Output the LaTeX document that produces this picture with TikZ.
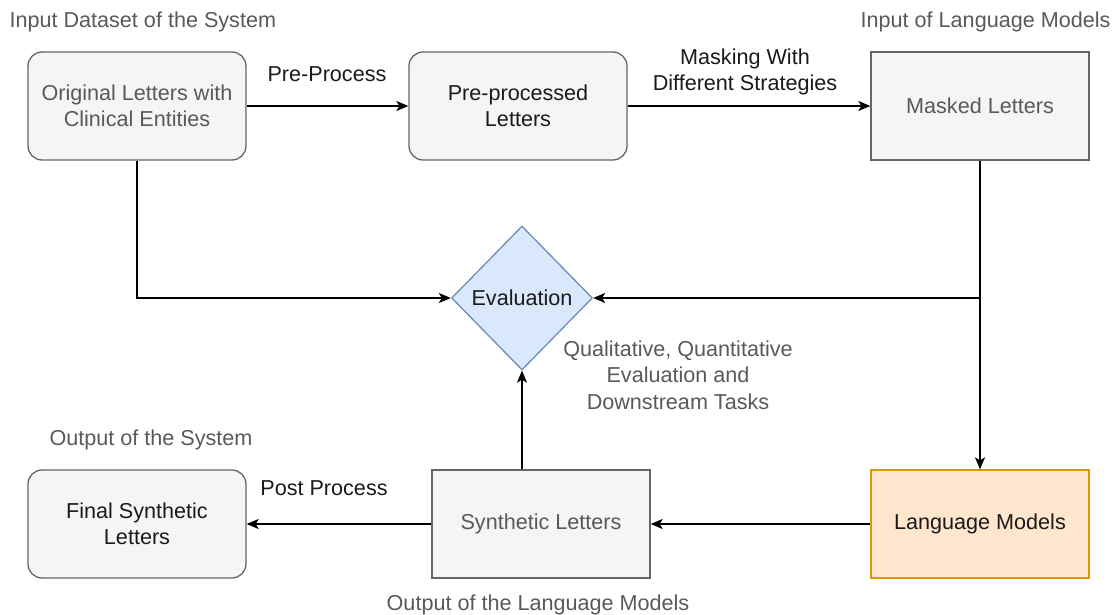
\documentclass[tikz,border=0pt]{standalone}
\usepackage{fontspec}
\setmainfont{Liberation Sans}
\usetikzlibrary{arrows.meta,shapes.geometric}
\definecolor{boxfill}{HTML}{F5F5F5}
\definecolor{boxline}{HTML}{666666}
\definecolor{txtgray}{HTML}{595959}
\definecolor{txtdark}{HTML}{1A1A1A}
\definecolor{evalfill}{HTML}{DAE8FC}
\definecolor{evalline}{HTML}{6C8EBF}
\definecolor{lmfill}{HTML}{FFE6CC}
\definecolor{lmline}{HTML}{D79B00}
\tikzset{
  x=1pt,y=-1pt,
  every node/.style={font=\fontsize{21.6}{26.5}\selectfont, align=center},
  rbox/.style={draw=boxline, fill=boxfill, line width=1.3pt, rounded corners=14pt,
    minimum width=218pt, minimum height=108pt, inner sep=0pt},
  sbox/.style={draw=boxline, fill=boxfill, line width=1.3pt,
    minimum width=218pt, minimum height=108pt, inner sep=0pt},
  conn/.style={line width=1.6pt, -{Stealth[length=12pt,width=10pt,inset=3pt]}},
  lbl/.style={text=txtdark},
}
\begin{document}
\begin{tikzpicture}
\useasboundingbox (0,0) rectangle (1114,615);
% boxes
\node[rbox, text=txtgray] (orig) at (137,106) {Original Letters with\\Clinical Entities};
\node[rbox, text=txtdark] (pre) at (518,106) {Pre-processed\\Letters};
\node[sbox, text=txtgray] (mask) at (980,106) {Masked Letters};
\node[diamond, draw=evalline, fill=evalfill, line width=1.3pt, minimum width=141pt, minimum height=144pt, inner sep=0pt, text=txtdark] (eval) at (522,298) {Evaluation};
\node[sbox, text=txtgray] (syn) at (541,524) {Synthetic Letters};
\node[rbox, text=txtdark] (final) at (137,524) {Final Synthetic\\Letters};
\node[sbox, draw=lmline, fill=lmfill, text=txtdark] (lm) at (980,524) {Language Models};
% helper coordinates
\coordinate (c1) at (137,298);
\coordinate (c2) at (980,298);
% connectors
\draw[conn] (orig.east) -- (pre.west);
\draw[conn] (pre.east) -- (mask.west);
\draw[conn] (orig.south) -- (c1) -- (eval.west);
\draw[conn] (mask.south) -- (lm.north);
\draw[conn] (c2) -- (eval.east);
\draw[conn] (lm.west) -- (syn.east);
\draw[conn] (syn.west) -- (final.east);
\draw[conn] (syn.north -| eval.south) -- (eval.south);
% labels
\node[lbl] (l1) at (327,74) {Pre-Process};
\node[lbl] (l2) at (745,72) {Masking With\\Different Strategies};
\node[lbl] (l3) at (324,488) {Post Process};
\node[lbl, text=txtgray] (l4) at (678,375) {Qualitative, Quantitative\\Evaluation and\\Downstream Tasks};
\node[lbl, text=txtgray, anchor=west] (t1) at (6,22) {Input Dataset of the System};
\node[lbl, text=txtgray, anchor=east] (t2) at (1114,22) {Input of Language Models};
\node[lbl, text=txtgray, anchor=west] (t3) at (46,440) {Output of the System};
\node[lbl, text=txtgray] (t4) at (538,605) {Output of the Language Models};
\end{tikzpicture}
\end{document}
